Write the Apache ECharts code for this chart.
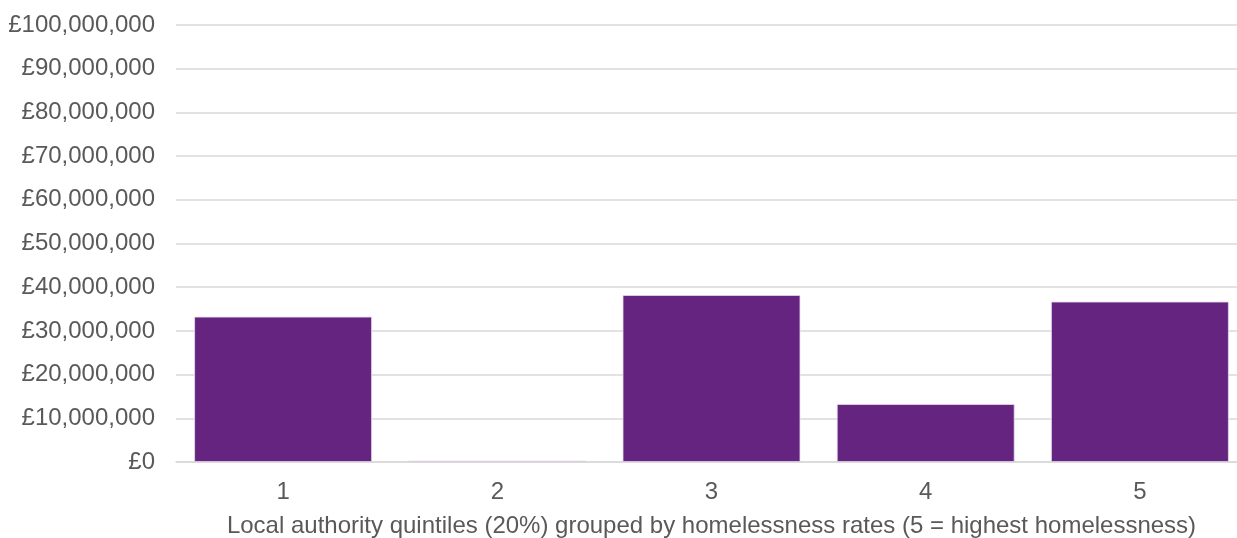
<!DOCTYPE html>
<html>
<head>
<meta charset="utf-8">
<script src="https://cdn.jsdelivr.net/npm/echarts@6/dist/echarts.min.js"></script>
<style>
  html, body { margin: 0; padding: 0; background: #fff; }
  #chart { width: 1237px; height: 538px; }
</style>
</head>
<body>
<div id="chart"></div>
<script>
// quintiles and funding values (GBP)
var quintiles = ['1', '2', '3', '4', '5'];
var funding = [33250000, 300000, 38200000, 13250000, 36700000];

var axisGrey = '#595959';
var gridGrey = '#d9d9d9';

var myChart = echarts.init(document.getElementById('chart'));
myChart.setOption({
  animation: false,
  textStyle: { fontFamily: 'Liberation Sans, Arial, sans-serif' },
  grid: { left: 176, right: -10, top: 25, bottom: 76, outerBoundsMode: 'none' },
  xAxis: {
    type: 'category',
    data: quintiles,
    name: 'Local authority quintiles (20%) grouped by homelessness rates (5 = highest homelessness)',
    nameLocation: 'middle',
    nameGap: 52,
    nameTextStyle: { color: axisGrey, fontSize: 24 },
    axisTick: { show: false },
    axisLine: { lineStyle: { color: gridGrey, width: 1.5 } },
    axisLabel: { color: axisGrey, fontSize: 24, margin: 18 }
  },
  yAxis: {
    type: 'value',
    min: 0,
    max: 100000000,
    interval: 10000000,
    axisLine: { show: false },
    axisTick: { show: false },
    splitLine: { lineStyle: { color: gridGrey, width: 1.5 } },
    axisLabel: {
      color: axisGrey,
      fontSize: 24,
      margin: 21,
      formatter: function (v) {
        return '£' + v.toString().replace(/\B(?=(\d{3})+(?!\d))/g, ',');
      }
    }
  },
  series: [{
    type: 'bar',
    data: funding,
    barCategoryGap: '17%',
    itemStyle: { color: '#65247f', borderColor: '#e6dcea', borderWidth: 0.8 }
  }]
});
</script>
</body>
</html>
